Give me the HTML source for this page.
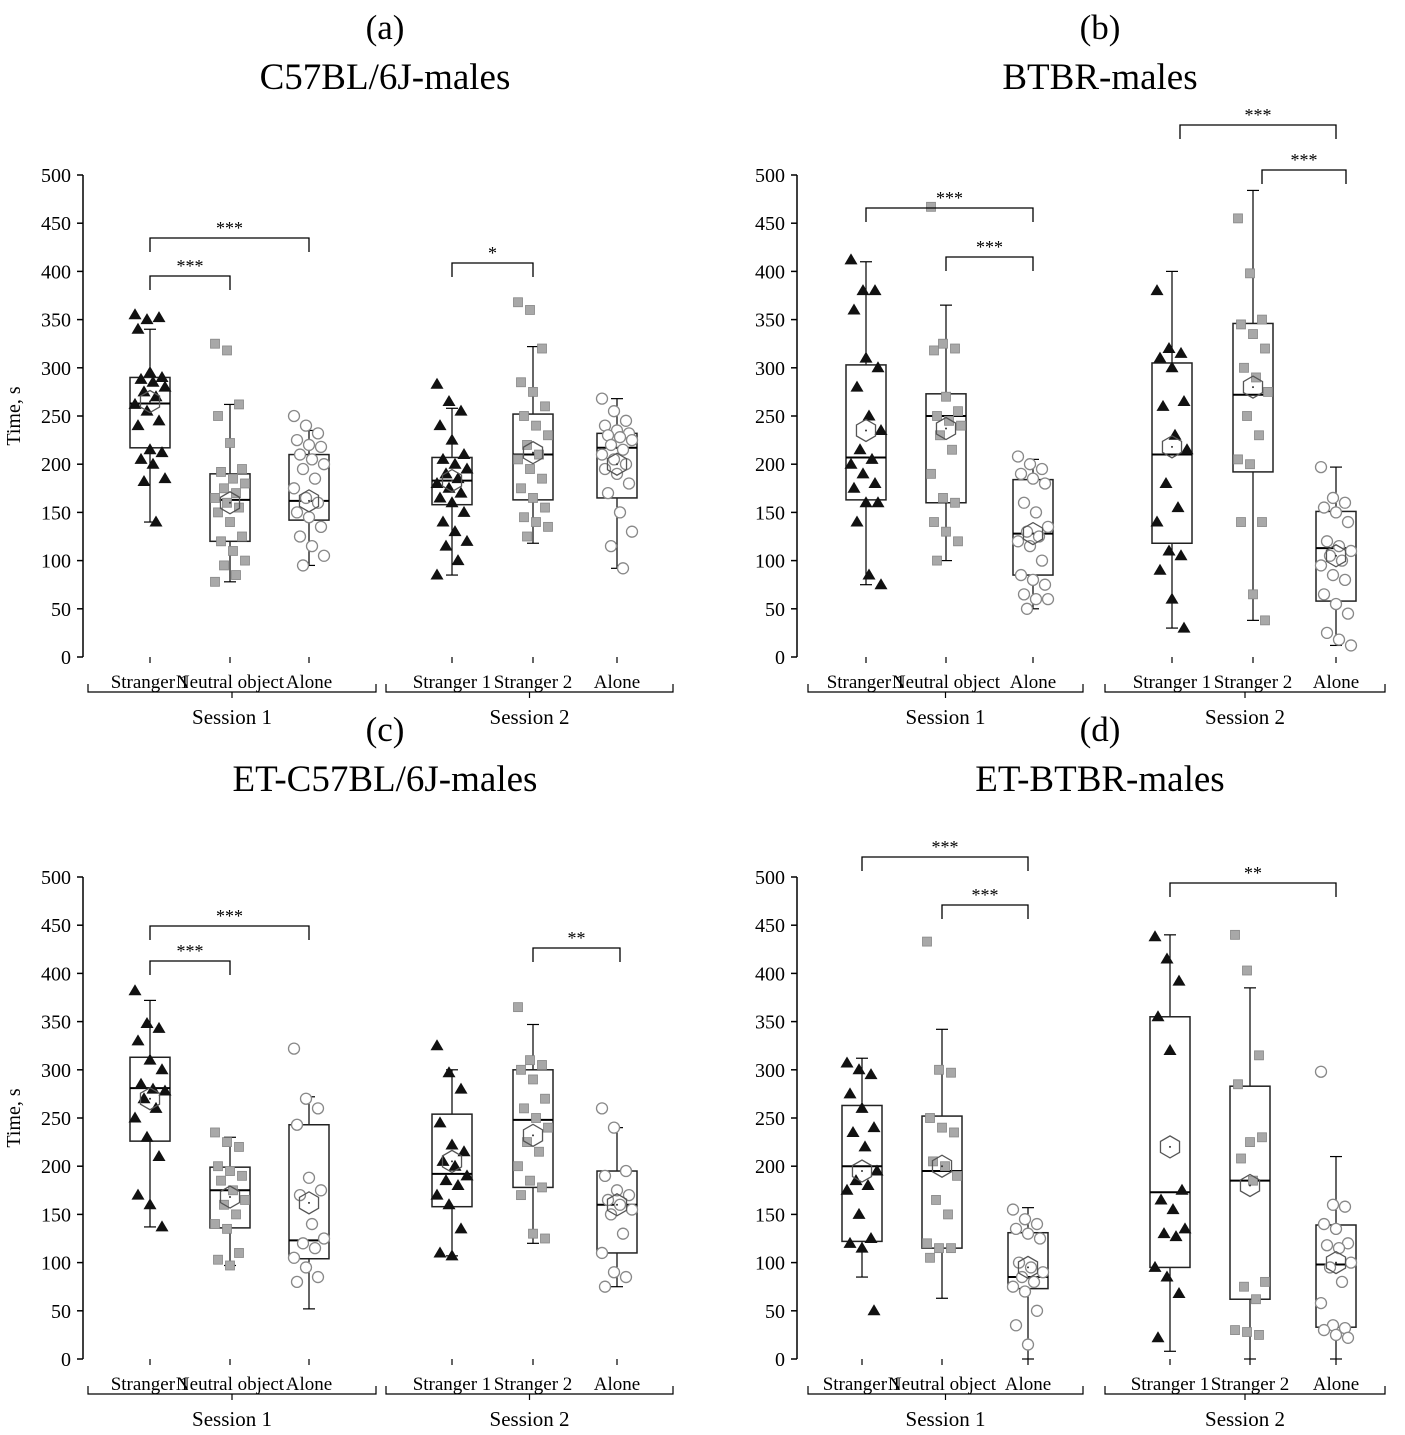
<!DOCTYPE html>
<html><head><meta charset="utf-8">
<style>
body{margin:0;background:#fff;}
svg{display:block;font-family:"Liberation Serif",serif;}
</style></head>
<body>
<svg id="chart" width="1405" height="1435" viewBox="0 0 1405 1435" xmlns="http://www.w3.org/2000/svg"></svg>
<script>
const yTicks=[0,50,100,150,200,250,300,350,400,450,500];
const catLabels=["Stranger 1","Neutral object","Alone","Stranger 1","Stranger 2","Alone"];
const sessionLabels=["Session 1","Session 2"];

// Panel a
const aQ1=[217,120,142,158,163,165];
const aMed=[263,163,162,183,210,217];
const aQ3=[290,190,210,207,252,232];
const aLo=[140,78,95,85,118,92];
const aHi=[340,262,235,258,322,268];
const aMean=[265,160,162,183,212,200];
const aPts=[[355,350,352,340,295,290,288,285,280,275,270,262,255,245,240,215,212,205,200,185,182,140],
[325,318,262,250,222,195,192,185,180,175,170,165,160,155,150,140,125,120,110,100,95,85,78],
[250,240,232,225,220,218,210,205,200,195,185,175,165,160,150,145,135,125,115,105,95],
[283,265,255,240,225,210,205,200,195,190,185,180,175,170,165,160,150,140,130,120,115,100,85],
[368,360,320,285,275,260,250,240,230,220,210,205,195,185,175,165,155,145,140,135,125],
[268,255,245,240,235,232,230,228,225,220,215,210,205,200,195,190,180,170,150,130,115,92]];
// Panel b
const bQ1=[163,160,85,118,192,58];
const bMed=[207,250,128,210,272,113];
const bQ3=[303,273,184,305,346,151];
const bLo=[75,100,50,30,38,12];
const bHi=[410,365,205,400,484,197];
const bMean=[235,237,128,218,280,105];
const bPts=[[412,380,380,360,310,300,280,250,235,215,205,200,190,180,175,160,160,140,85,75],
[467,325,320,318,270,255,250,245,240,230,215,190,165,160,140,130,120,100],
[208,200,195,190,185,180,160,150,135,130,125,120,115,100,85,80,75,65,60,60,50],
[380,320,315,310,300,265,260,230,215,180,155,140,110,105,90,60,30],
[455,398,350,345,335,320,300,290,275,250,230,205,200,140,140,65,38],
[197,165,160,155,150,140,120,115,110,105,100,95,85,80,65,55,45,25,18,12]];
// Panel c
const cQ1=[226,136,104,158,178,110];
const cMed=[281,175,123,192,248,160];
const cQ3=[313,199,243,254,300,195];
const cLo=[137,97,52,107,120,75];
const cHi=[372,230,272,300,347,240];
const cMean=[270,168,162,205,232,160];
const cPts=[[382,348,343,330,310,300,285,280,278,270,260,250,230,210,170,160,137],
[235,225,220,200,195,190,185,175,165,160,150,140,135,110,103,97],
[322,270,260,243,188,175,170,140,125,120,115,105,95,85,80],
[325,297,280,245,222,215,205,200,190,185,180,170,160,135,110,107],
[365,310,305,300,290,270,260,250,240,225,215,200,185,178,170,130,125],
[260,240,195,190,175,170,165,160,155,150,130,110,90,85,75]];
// Panel d
const dQ1=[122,115,73,95,62,33];
const dMed=[200,195,85,173,185,98];
const dQ3=[263,252,131,355,283,139];
const dLo=[85,63,0,8,0,0];
const dHi=[312,342,157,440,385,210];
const dMean=[195,200,95,220,180,100];
const dPts=[[307,300,295,275,260,240,235,220,195,185,180,175,150,125,120,115,50],
[433,300,297,250,240,235,205,200,190,165,150,120,115,115,105],
[155,145,140,135,130,125,100,95,90,85,80,75,70,50,35,15],
[438,415,392,355,320,175,165,155,135,130,127,95,85,68,22],
[440,403,315,285,225,230,208,185,80,75,62,30,28,25],
[298,160,158,140,135,120,118,115,100,95,80,58,35,32,30,25,22]];

const svg=document.getElementById('chart');
const NS='http://www.w3.org/2000/svg';
function mk(tag,attrs,parent){const e=document.createElementNS(NS,tag);for(const k in attrs)e.setAttribute(k,attrs[k]);(parent||svg).appendChild(e);return e;}

const panels=[
 {id:'a',letter:'(a)',title:'C57BL/6J-males',ax:83,y0:657,cx:[150,230,309,452,533,617],q1:aQ1,med:aMed,q3:aQ3,lo:aLo,hi:aHi,mean:aMean,pts:aPts,ytitle:true,
  sig:[[150,309,238,'***'],[150,230,276,'***'],[452,533,263,'*']],bx:[[88,376],[386,673]],tcx:390},
 {id:'b',letter:'(b)',title:'BTBR-males',ax:797,y0:657,cx:[866,946,1033,1172,1253,1336],q1:bQ1,med:bMed,q3:bQ3,lo:bLo,hi:bHi,mean:bMean,pts:bPts,ytitle:false,
  sig:[[866,1033,208,'***'],[946,1033,257,'***'],[1180,1336,125,'***'],[1262,1346,170,'***']],bx:[[808,1083],[1105,1385]],tcx:1105},
 {id:'c',letter:'(c)',title:'ET-C57BL/6J-males',ax:83,y0:1359,cx:[150,230,309,452,533,617],q1:cQ1,med:cMed,q3:cQ3,lo:cLo,hi:cHi,mean:cMean,pts:cPts,ytitle:true,
  sig:[[150,309,926,'***'],[150,230,961,'***'],[533,620,948,'**']],bx:[[88,376],[386,673]],tcx:390},
 {id:'d',letter:'(d)',title:'ET-BTBR-males',ax:797,y0:1359,cx:[862,942,1028,1170,1250,1336],q1:dQ1,med:dMed,q3:dQ3,lo:dLo,hi:dHi,mean:dMean,pts:dPts,ytitle:false,
  sig:[[862,1028,857,'***'],[942,1028,905,'***'],[1170,1336,883,'**']],bx:[[808,1083],[1105,1385]],tcx:1105}
];
const K=482/500;

panels.forEach(p=>{
 const g=mk('g',{});
 
 
 const y=v=>p.y0-v*K;
 const top=p.y0-482;
 const t1=mk('text',{x:p.tcx-5,y:top-136,'text-anchor':'middle','font-size':35},g);t1.textContent=p.letter;
 
 const t2=mk('text',{x:p.tcx-5,y:top-86,'text-anchor':'middle','font-size':37},g);t2.textContent=p.title;
 
 const ax=mk('line',{x1:p.ax,x2:p.ax,y1:y(0),y2:y(500),stroke:'#000','stroke-width':1.5},g);
 
 yTicks.forEach(v=>{
  mk('line',{x1:p.ax-6,x2:p.ax,y1:y(v),y2:y(v),stroke:'#000','stroke-width':1.5},g);
  const t=mk('text',{x:p.ax-12,y:y(v)+7,'text-anchor':'end','font-size':20},g);t.textContent=v;
  
 });
 if(p.ytitle){const t=mk('text',{transform:`translate(20,${y(250)}) rotate(-90)`,'text-anchor':'middle','font-size':20},g);t.textContent='Time, s';
  }
 p.cx.forEach((x,i)=>{
  mk('line',{x1:x,x2:x,y1:y(0),y2:y(0)+6,stroke:'#000','stroke-width':1.2},g);
  const t=mk('text',{x:x,y:p.y0+31,'text-anchor':'middle','font-size':19},g);t.textContent=catLabels[i];
  
 });
 p.bx.forEach((b,i)=>{
  const by=p.y0+35, mid=(b[0]+b[1])/2;
  const br=mk('path',{d:`M${b[0]},${by-8}V${by}H${b[1]}V${by-8}M${mid},${by}V${by+6}`,fill:'none',stroke:'#000','stroke-width':1.2},g);
  
  const t=mk('text',{x:mid,y:p.y0+67,'text-anchor':'middle','font-size':21},g);t.textContent=sessionLabels[i];
  
 });
 p.cx.forEach((x,i)=>{
  const bg=mk('g',{},g);
  
  
  mk('line',{x1:x,x2:x,y1:y(p.lo[i]),y2:y(p.q1[i]),stroke:'#000','stroke-width':1.2},bg);
  mk('line',{x1:x,x2:x,y1:y(p.q3[i]),y2:y(p.hi[i]),stroke:'#000','stroke-width':1.2},bg);
  mk('line',{x1:x-6,x2:x+6,y1:y(p.lo[i]),y2:y(p.lo[i]),stroke:'#000','stroke-width':1.2},bg);
  mk('line',{x1:x-6,x2:x+6,y1:y(p.hi[i]),y2:y(p.hi[i]),stroke:'#000','stroke-width':1.2},bg);
  mk('rect',{x:x-20,y:y(p.q3[i]),width:40,height:y(p.q1[i])-y(p.q3[i]),fill:'none',stroke:'#222','stroke-width':1.5},bg);
  mk('line',{x1:x-20,x2:x+20,y1:y(p.med[i]),y2:y(p.med[i]),stroke:'#000','stroke-width':2},bg);
  const sh=i%3===0?'tri':(i===2||i===5?'circ':'sq');
  p.pts[i].forEach((v,j)=>{
   const ox=((j*37)%11-5)*3.0;
   const px=x+ox, py=y(v);
   let m;
   if(sh==='tri') m=mk('path',{d:`M${px},${py-6.5}L${px+6.5},${py+4.5}L${px-6.5},${py+4.5}Z`,fill:'#111'},bg);
   else if(sh==='sq') m=mk('rect',{x:px-4.5,y:py-4.5,width:9,height:9,fill:'#a8a8a8',stroke:'#888','stroke-width':0.8},bg);
   else m=mk('circle',{cx:px,cy:py,r:5.5,fill:'#fff',stroke:'#888','stroke-width':1.3},bg);
   
   
  });
  const my=y(p.mean[i]);let d='';
  for(let k=0;k<6;k++){const a=Math.PI/6+k*Math.PI/3;d+=(k?'L':'M')+(x+11*Math.cos(a))+','+(my+11*Math.sin(a));}
  const hx=mk('path',{d:d+'Z',fill:'none',stroke:'#555','stroke-width':1.3},bg);
  
  mk('circle',{cx:x,cy:my,r:1,fill:'#333'},bg);
 });
 p.sig.forEach(s=>{
  const sg=mk('g',{},g);
  
  
  mk('path',{d:`M${s[0]},${s[2]+14}V${s[2]}H${s[1]}V${s[2]+14}`,fill:'none',stroke:'#000','stroke-width':1.3},sg);
  const t=mk('text',{x:(s[0]+s[1])/2,y:s[2]-4,'text-anchor':'middle','font-size':18},sg);t.textContent=s[3];
 });
});
</script>
</body></html>
